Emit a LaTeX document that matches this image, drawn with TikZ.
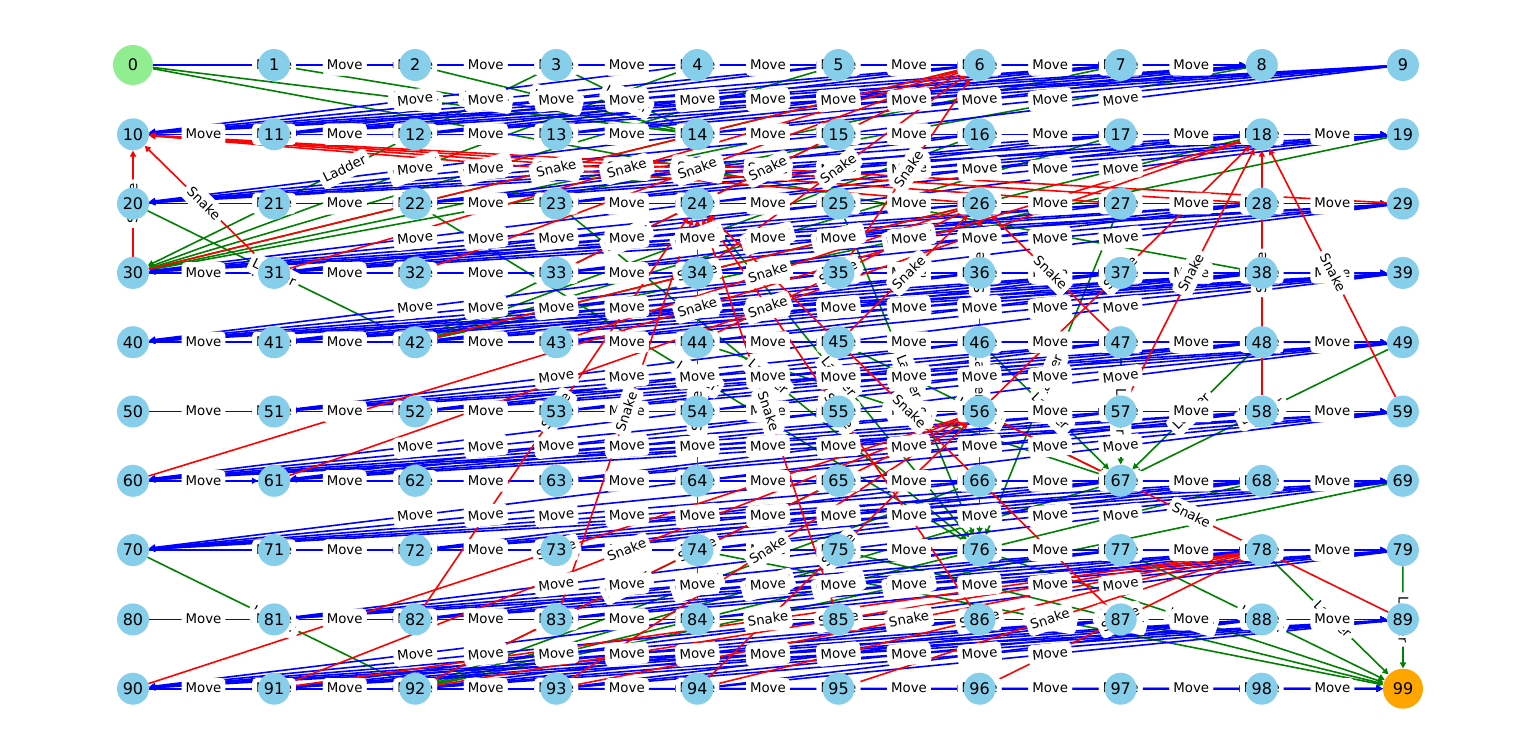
\documentclass[tikz,border=0pt]{standalone}
\usepackage{fontspec}
\setmainfont{DejaVu Sans}
\usetikzlibrary{arrows.meta}

\definecolor{Move}{HTML}{0000FF}
\definecolor{Snake}{HTML}{FF0000}
\definecolor{Ladder}{HTML}{008000}
\definecolor{cellblue}{HTML}{87CEEB}
\definecolor{startgreen}{HTML}{90EE90}
\definecolor{goalorange}{HTML}{FFA500}

\pgfdeclarelayer{edges}
\pgfdeclarelayer{labels}
\pgfsetlayers{edges,labels,main}

% runs #1 once per die throw, with \i the source, \dest the target, \what the kind
\newcommand{\allhops}[1]{%
    \foreach \i in {0,...,98} {
        \foreach \k in {1,...,6} {
            \pgfmathtruncatemacro{\land}{\i+\k}
            \ifnum\land<100
                \edef\dest{\land}
                \def\what{Move}
                \ifcsname tail\land\endcsname
                    \edef\dest{\csname tail\land\endcsname}
                    \edef\what{\csname kind\land\endcsname}
                \fi
                #1
            \fi
        }
    }
}

\begin{document}
\begin{tikzpicture}[
    x=0.75pt, y=0.75pt,
    cell/.style={circle, fill=cellblue, inner sep=0pt, minimum size=24pt, font=\fontsize{12}{14}\selectfont},
    bigcell/.style={cell, minimum size=30pt},
    arrow/.style={-{Triangle[length=4.5pt, width=4.5pt]}, line width=1.2pt},
    hoplabel/.style={sloped, fill=white, rounded corners=3pt, inner xsep=3pt, inner ysep=3pt, text height=8.2pt, text depth=1.8pt, font=\fontsize{10}{12}\selectfont}
]
    \useasboundingbox (0,0) rectangle (1536,-754);

    % Nodes
    \node[bigcell, fill=startgreen] (n0) at (133,-65) {0};
    \foreach \i in {1,...,98} {
        \pgfmathtruncatemacro{\col}{mod(\i,10)}
        \pgfmathtruncatemacro{\row}{\i/10}
        \node[cell] (n\i) at ({133+141.1*\col},{-65-69.3*\row}) {\i};
    }
    \node[bigcell, fill=goalorange] (n99) at (1403,-688.7) {99};

    % Snakes and ladders: square landed on / square reached
    \foreach \head/\tail/\kind in {1/38/Ladder, 4/14/Ladder, 9/30/Ladder, 21/42/Ladder, 28/76/Ladder, 50/67/Ladder, 71/92/Ladder, 80/99/Ladder,
        32/10/Snake, 36/6/Snake, 48/26/Snake, 62/18/Snake, 88/24/Snake, 95/56/Snake, 97/78/Snake} {
        \expandafter\xdef\csname tail\head\endcsname{\tail}
        \expandafter\xdef\csname kind\head\endcsname{\kind}
    }

    % Arrows
    \begin{pgfonlayer}{edges}
        \allhops{\draw[arrow, draw=\what, fill=\what] (n\i) -- (n\dest);}
    \end{pgfonlayer}

    % Labels
    \begin{pgfonlayer}{labels}
        \allhops{\path (n\i.center) -- node[hoplabel] {\what} (n\dest.center);}
    \end{pgfonlayer}
\end{tikzpicture}
\end{document}
